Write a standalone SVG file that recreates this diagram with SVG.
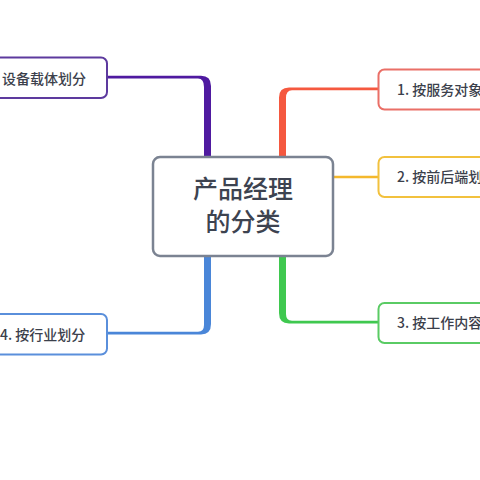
<svg xmlns="http://www.w3.org/2000/svg" width="480" height="480" viewBox="0 0 480 480">
<style>
  .box{fill:#ffffff;stroke-width:2}
  .t{font-family:"Noto Sans CJK SC","Noto Sans",sans-serif;font-size:14px;fill:#3b404b;font-weight:500}
  .ct{font-family:"Noto Sans CJK SC","Noto Sans",sans-serif;font-size:25px;fill:#3d4350;font-weight:500;text-anchor:middle}
</style>
<rect width="480" height="480" fill="#ffffff"/>
<g id="connectors">
  <path d="M107,75.8 H201 Q211,75.8 211,86 V158 H204 V87 Q204,78.4 198,78.4 H107 Z" fill="#4f1aa0"/>
  <path d="M378,87.6 H289 Q279,87.6 279,97.6 V158 H286 V98 Q286,90.2 292,90.2 H378 Z" fill="#f5583f"/>
  <path d="M279,255 V313 Q279,323.4 289,323.4 H378 V320.8 H292 Q286,320.8 286,314 V255 Z" fill="#3fc84f"/>
  <path d="M211,255 V324 Q211,334.4 201,334.4 H107 V331.8 H198 Q204,331.8 204,325 V255 Z" fill="#4a86d8"/>
  <path d="M333,177 H378" stroke="#f4b82c" stroke-width="2.4" fill="none"/>
</g>
<g id="root">
  <rect x="153" y="157" width="180" height="99" rx="7" fill="#ffffff" stroke="#7b8392" stroke-width="2.5"/>
  <text class="ct" x="243" y="198">产品经理</text>
  <text class="ct" x="243" y="231">的分类</text>
</g>
<g id="node-device">
  <rect class="box" x="-60" y="57.5" width="167" height="40.5" rx="6" stroke="#5d3a9e"/>
  <text class="t" x="2" y="84">设备载体划分</text>
</g>
<g id="node-industry">
  <rect class="box" x="-60" y="314" width="167" height="40.5" rx="6" stroke="#5a8fdb"/>
  <text class="t" x="0" y="340">4. 按行业划分</text>
</g>
<g id="node-service">
  <rect class="box" x="378.5" y="69.5" width="160" height="40" rx="6" stroke="#ea6f67"/>
  <text class="t" x="397" y="95">1. 按服务对象</text>
</g>
<g id="node-frontback">
  <rect class="box" x="378.5" y="157" width="160" height="40" rx="6" stroke="#f2c13e"/>
  <text class="t" x="397" y="182">2. 按前后端划</text>
</g>
<g id="node-work">
  <rect class="box" x="378.5" y="303" width="160" height="40" rx="6" stroke="#5acb64"/>
  <text class="t" x="397" y="328">3. 按工作内容</text>
</g>
</svg>
